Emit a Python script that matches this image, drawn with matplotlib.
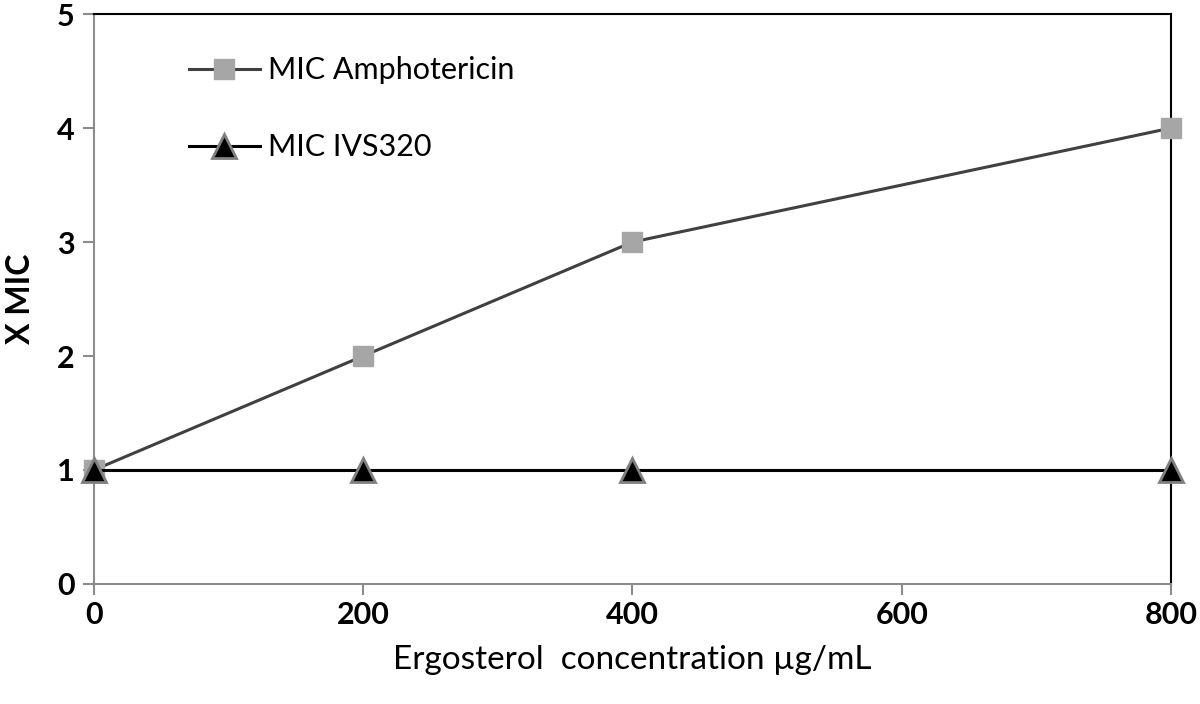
import matplotlib
matplotlib.use('Agg')
from matplotlib import pyplot as plt

conc = [0, 200, 400, 800]
mic_ampho = [1, 2, 3, 4]
mic_ivs = [1, 1, 1, 1]

plt.rcParams['font.family'] = ['Lato', 'DejaVu Sans']

fig = plt.figure(figsize=(12, 7.04), dpi=100)
ax = fig.add_axes([0.0783, 0.1705, 0.8975, 0.8095])

ax.plot(conc, mic_ampho, color='#404040', lw=2.2, marker='s', ms=15,
        mfc='#a6a6a6', mec='#a6a6a6', label='MIC Amphotericin', clip_on=False, zorder=3)
ax.plot(conc, mic_ivs, color='black', lw=2.2, marker='^', ms=17,
        mfc='black', mec='#7f7f7f', mew=2, label='MIC IVS320', clip_on=False, zorder=4)

ax.set_xlim(0, 800)
ax.set_ylim(0, 5)
ax.set_xticks([0, 200, 400, 600, 800])
ax.set_yticks([0, 1, 2, 3, 4, 5])

for s in ['left', 'bottom']:
    ax.spines[s].set_color('#8c8c8c')
    ax.spines[s].set_linewidth(1.5)
for s in ['top', 'right']:
    ax.spines[s].set_color('black')
    ax.spines[s].set_linewidth(1.5)

ax.tick_params(direction='out', length=8, width=1.5, color='#8c8c8c', labelsize=22, pad=6)
ax.tick_params(axis='x', pad=4)
for lab in ax.get_yticklabels() + ax.get_xticklabels():
    lab.set_fontweight('bold')

ax.set_xlabel('Ergosterol  concentration µg/mL', fontsize=24, labelpad=12)
ax.set_ylabel('X MIC', fontsize=23, fontweight='bold', labelpad=16)

ax.legend(loc='upper left', bbox_to_anchor=(0.063, 0.974), frameon=False, fontsize=22,
          handlelength=2.3, labelspacing=1.6, handletextpad=0.26)

fig.savefig('out.png', dpi=100)
